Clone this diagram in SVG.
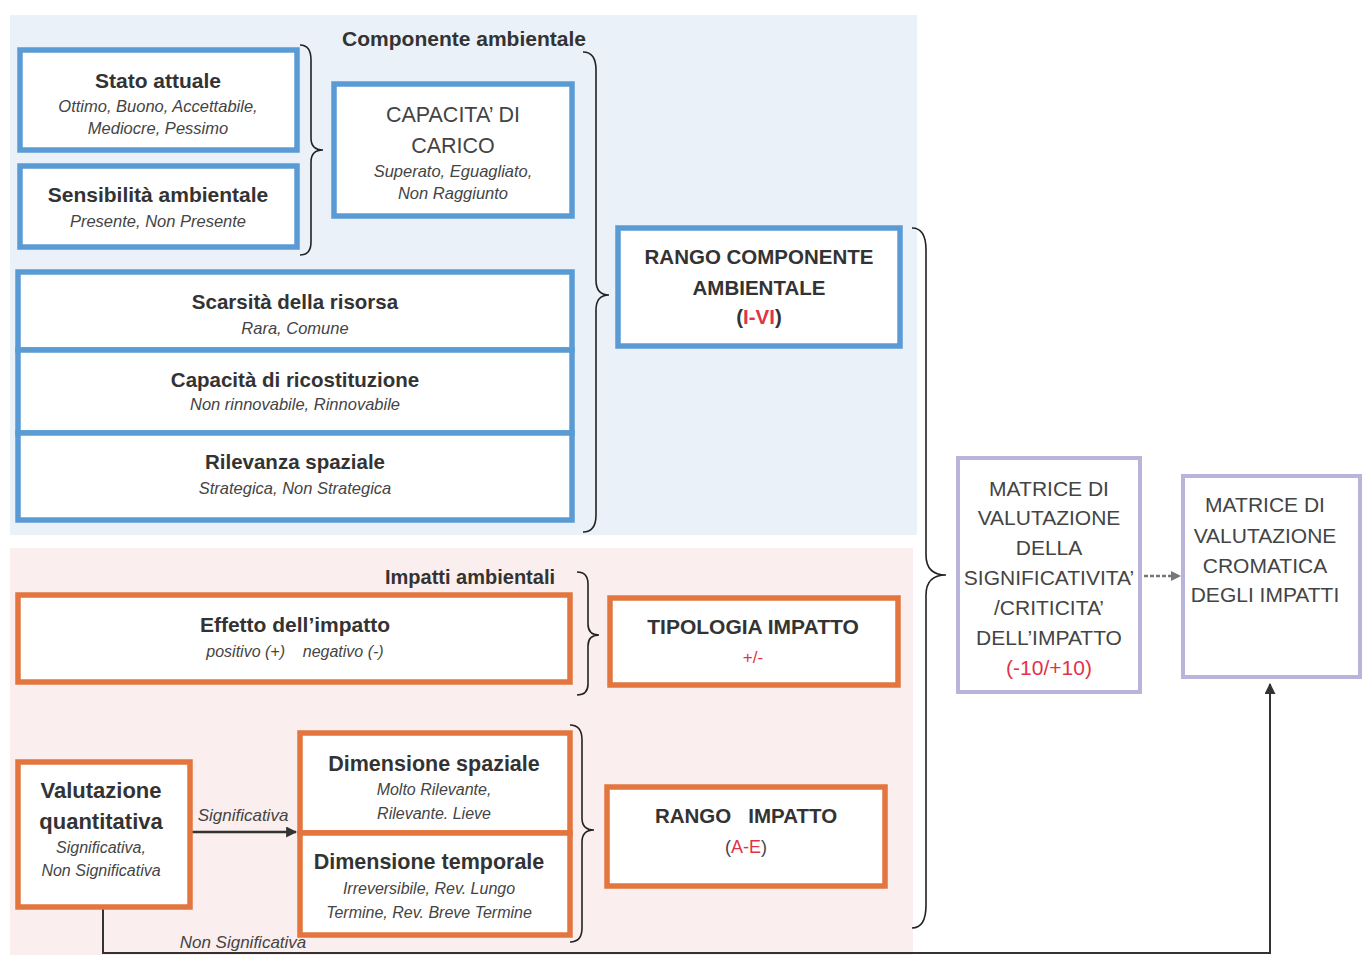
<svg xmlns="http://www.w3.org/2000/svg" width="1368" height="955" viewBox="0 0 1368 955">
<defs>
<style>
.bg{stroke:none}
.bb{fill:#fff;stroke:#5b9bd5;stroke-width:5.5}
.ob{fill:#fff;stroke:#e2763e;stroke-width:5.5}
.lb{fill:#fff;stroke:#b9b4db;stroke-width:4}
.t{font-family:"Liberation Sans",Arial,sans-serif;font-weight:bold;fill:#333;text-anchor:middle}
.s{font-family:"Liberation Sans",Arial,sans-serif;font-style:italic;fill:#444;text-anchor:middle}
.r{font-family:"Liberation Sans",Arial,sans-serif;fill:#444;text-anchor:middle}
.red{fill:#e0334a}
.br{fill:none;stroke:#222;stroke-width:1.6}
</style>
<marker id="ah" viewBox="0 0 10 10" refX="9" refY="5" markerWidth="11" markerHeight="11" markerUnits="userSpaceOnUse" orient="auto"><path d="M0,0 L10,5 L0,10 z" fill="#333"/></marker>
<marker id="ag" viewBox="0 0 10 10" refX="9" refY="5" markerWidth="10" markerHeight="10" markerUnits="userSpaceOnUse" orient="auto"><path d="M0,0 L10,5 L0,10 z" fill="#777"/></marker>
</defs>
<rect width="1368" height="955" fill="#fff"/>
<rect class="bg" x="10" y="15" width="907" height="520" fill="#eaf1f8"/>
<rect class="bg" x="10" y="548" width="903" height="407" fill="#fbeeee"/>

<text class="t" x="464" y="46" font-size="21">Componente ambientale</text>
<text class="t" x="555" y="584" font-size="20" style="text-anchor:end">Impatti ambientali</text>

<g id="connectors">
<path class="br" d="M300,45 Q311,45 311,60 L311,138 Q311,150 323,150 Q311,150 311,162 L311,242 Q311,255 300,255"/>
<path class="br" d="M583,52 Q596,52 596,70 L596,280 Q596,295 609,295 Q596,295 596,310 L596,515 Q596,532 583,532"/>
<path class="br" d="M912,228 Q926,228 926,250 L926,555 Q926,575 946,575 Q926,575 926,595 L926,905 Q926,928 912,928"/>
<path class="br" d="M577,572 Q588,572 588,584 L588,624 Q588,635 599,635 Q588,635 588,646 L588,684 Q588,695 577,695"/>
<path class="br" d="M570,725 Q582,725 582,740 L582,818 Q582,830 594,830 Q582,830 582,842 L582,928 Q582,942 570,942"/>
<line x1="190" y1="832" x2="296" y2="832" stroke="#333" stroke-width="2.5" marker-end="url(#ah)"/>
<text class="s" x="243" y="821" font-size="17">Significativa</text>
<polyline points="103,907 103,953 1270,953 1270,684" fill="none" stroke="#333" stroke-width="2" marker-end="url(#ah)"/>
<text class="s" x="243" y="948" font-size="17">Non Significativa</text>
<line x1="1144" y1="576" x2="1180" y2="576" stroke="#777" stroke-width="2.5" stroke-dasharray="4,2" marker-end="url(#ag)"/>
</g>

<g id="stato">
<rect class="bb" x="20" y="50" width="277" height="100"/>
<text class="t" x="158" y="88" font-size="21">Stato attuale</text>
<text class="s" x="158" y="112" font-size="16.5">Ottimo, Buono, Accettabile,</text>
<text class="s" x="158" y="134" font-size="16.5">Mediocre, Pessimo</text>
</g>
<g id="sensibilita">
<rect class="bb" x="20" y="166" width="277" height="81"/>
<text class="t" x="158" y="202" font-size="21">Sensibilità ambientale</text>
<text class="s" x="158" y="227" font-size="16.5">Presente, Non Presente</text>
</g>
<g id="capacita-carico">
<rect class="bb" x="334" y="84" width="238" height="132"/>
<text class="r" x="453" y="122" font-size="21.5">CAPACITA’ DI</text>
<text class="r" x="453" y="153" font-size="21.5">CARICO</text>
<text class="s" x="453" y="177" font-size="16.5">Superato, Eguagliato,</text>
<text class="s" x="453" y="199" font-size="16.5">Non Raggiunto</text>
</g>
<g id="scarsita">
<rect class="bb" x="18" y="272" width="554" height="78"/>
<text class="t" x="295" y="309" font-size="20.5">Scarsità della risorsa</text>
<text class="s" x="295" y="334" font-size="16.5">Rara, Comune</text>
</g>
<g id="ricostituzione">
<rect class="bb" x="18" y="350" width="554" height="83"/>
<text class="t" x="295" y="387" font-size="20.5">Capacità di ricostituzione</text>
<text class="s" x="295" y="410" font-size="16.5">Non rinnovabile, Rinnovabile</text>
</g>
<g id="rilevanza">
<rect class="bb" x="18" y="433" width="554" height="87"/>
<text class="t" x="295" y="469" font-size="20.5">Rilevanza spaziale</text>
<text class="s" x="295" y="494" font-size="16.5">Strategica, Non Strategica</text>
</g>
<g id="rango-componente">
<rect class="bb" x="618" y="228" width="282" height="118"/>
<text class="t" x="759" y="264" font-size="20.5">RANGO COMPONENTE</text>
<text class="t" x="759" y="295" font-size="20.5">AMBIENTALE</text>
<text class="t" x="759" y="324" font-size="20.5">(<tspan class="red">I-VI</tspan>)</text>
</g>
<g id="effetto">
<rect class="ob" x="18" y="595" width="552" height="87"/>
<text class="t" x="295" y="632" font-size="21">Effetto dell’impatto</text>
<text class="s" x="295" y="657" font-size="16" xml:space="preserve">positivo (+)    negativo (-)</text>
</g>
<g id="tipologia">
<rect class="ob" x="610" y="598" width="288" height="87"/>
<text class="t" x="753" y="634" font-size="21">TIPOLOGIA IMPATTO</text>
<text class="r red" x="753" y="663" font-size="17">+/-</text>
</g>
<g id="valutazione">
<rect class="ob" x="18" y="762" width="172" height="145"/>
<text class="t" x="101" y="798" font-size="22">Valutazione</text>
<text class="t" x="101" y="829" font-size="22">quantitativa</text>
<text class="s" x="101" y="853" font-size="16">Significativa,</text>
<text class="s" x="101" y="876" font-size="16">Non Significativa</text>
</g>
<g id="dim-spaziale">
<rect class="ob" x="300" y="733" width="270" height="100"/>
<text class="t" x="434" y="771" font-size="21.5">Dimensione spaziale</text>
<text class="s" x="434" y="795" font-size="16">Molto Rilevante,</text>
<text class="s" x="434" y="819" font-size="16">Rilevante. Lieve</text>
</g>
<g id="dim-temporale">
<rect class="ob" x="300" y="833" width="270" height="102"/>
<text class="t" x="429" y="869" font-size="21.5">Dimensione temporale</text>
<text class="s" x="429" y="894" font-size="16">Irreversibile, Rev. Lungo</text>
<text class="s" x="429" y="918" font-size="16">Termine, Rev. Breve Termine</text>
</g>
<g id="rango-impatto">
<rect class="ob" x="607" y="787" width="278" height="99"/>
<text class="t" x="746" y="823" font-size="20.5" xml:space="preserve">RANGO   IMPATTO</text>
<text class="r" x="746" y="853" font-size="18" fill="#8a2b3a">(<tspan class="red">A-E</tspan>)</text>
</g>
<g id="matrice-significativita">
<rect class="lb" x="958" y="458" width="182" height="234"/>
<text class="r" x="1049" y="496" font-size="21">MATRICE DI</text>
<text class="r" x="1049" y="525" font-size="21">VALUTAZIONE</text>
<text class="r" x="1049" y="555" font-size="21">DELLA</text>
<text class="r" x="1049" y="585" font-size="21">SIGNIFICATIVITA’</text>
<text class="r" x="1049" y="615" font-size="21">/CRITICITA’</text>
<text class="r" x="1049" y="645" font-size="21">DELL’IMPATTO</text>
<text class="r red" x="1049" y="675" font-size="21">(-10/+10)</text>
</g>
<g id="matrice-cromatica">
<rect class="lb" x="1183" y="476" width="177" height="201"/>
<text class="r" x="1265" y="512" font-size="21">MATRICE DI</text>
<text class="r" x="1265" y="543" font-size="21">VALUTAZIONE</text>
<text class="r" x="1265" y="573" font-size="21">CROMATICA</text>
<text class="r" x="1265" y="602" font-size="21">DEGLI IMPATTI</text>
</g>
</svg>
